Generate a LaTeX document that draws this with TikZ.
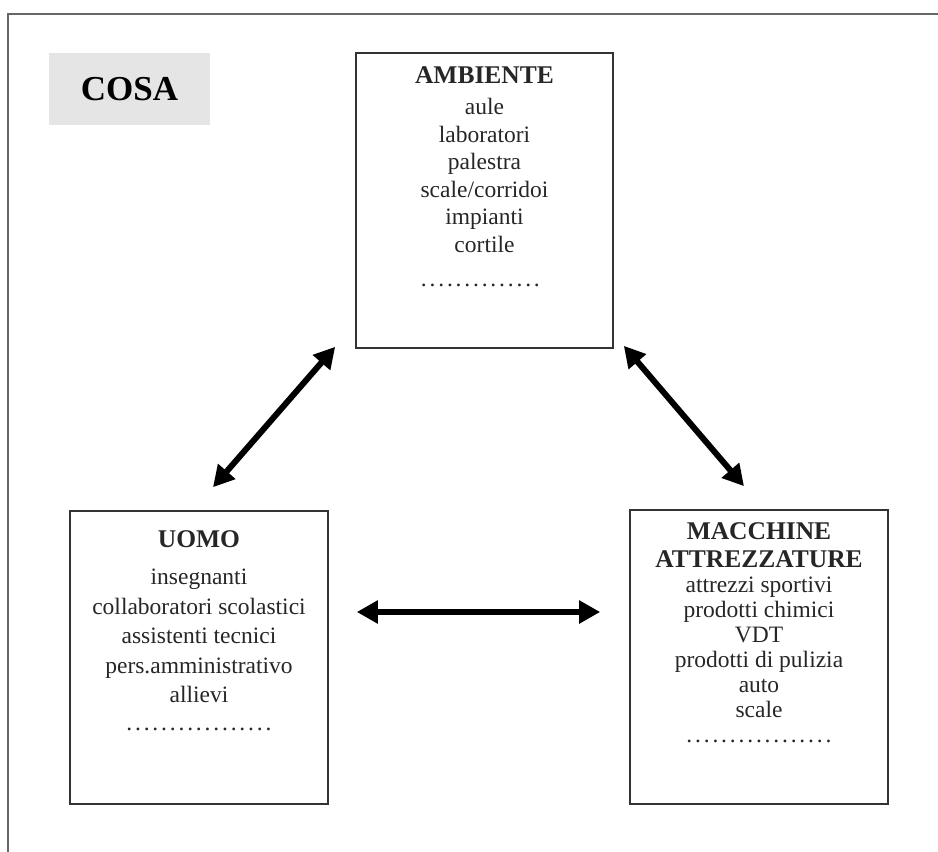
\documentclass[tikz,border=0pt]{standalone}
\usepackage{fontspec}
\setmainfont{Liberation Serif}
\usetikzlibrary{arrows.meta,positioning}
\newcommand{\dotrow}[1]{\makebox[#1]{\leaders\hbox to 8.7pt{\hss.\hss}\hfill}}
\newcommand{\boxtitle}[1]{{\bfseries\fontsize{25.5}{27}\selectfont #1}}

\begin{document}
\begin{tikzpicture}[x=1pt,y=-1pt,
   box/.style={draw=black!80,line width=1.6pt,inner sep=0pt},
   txt/.style={align=center,inner sep=0pt,text=black!85},
   twoway/.style={{Triangle[length=21pt,width=22pt]}-{Triangle[length=21pt,width=22pt]},line width=6pt}]
   \useasboundingbox (0,0) rectangle (938,852);
   \draw[black!60,line width=1.5pt] (8,852) -- (8,14) -- (938,14);

   \node[fill=black!10,minimum width=161pt,minimum height=72pt,
         font=\bfseries\fontsize{35}{40}\selectfont] (cosa) at (129.5,89) {COSA};

   \node[box,minimum width=257pt,minimum height=295pt] (amb) at (484.5,200.5) {};
   \node[box,minimum width=258pt,minimum height=293pt] (uomo) at (199,657.5) {};
   \node[box,minimum width=258pt,minimum height=294pt] (mac) at (759,657) {};

   \node[txt,below=14.3pt of amb.north,font=\fontsize{23.5}{27.6}\selectfont] (amb text)
      {\boxtitle{AMBIENTE}\\[3.4pt] aule\\ laboratori\\ palestra\\ scale/corridoi\\ impianti\\ cortile\\[6.5pt] \dotrow{130pt}};
   \node[txt,below=20.3pt of uomo.north,font=\fontsize{23.5}{29.5}\selectfont] (uomo text)
      {\boxtitle{UOMO}\\[7.5pt] insegnanti\\ collaboratori scolastici\\ assistenti tecnici\\ pers.amministrativo\\ allievi\\[-2pt] \dotrow{148pt}};
   \node[txt,below=13.3pt of mac.north,font=\fontsize{23.5}{25}\selectfont] (mac text)
      {\boxtitle{MACCHINE}\\[3pt] \boxtitle{ATTREZZATURE}\\ attrezzi sportivi\\ prodotti chimici\\ VDT\\ prodotti di pulizia\\ auto\\ scale\\ \dotrow{148pt}};

   \draw[twoway] ([shift={(14,-23)}]uomo.north) -- ([shift={(-20,-2)}]amb.south west);
   \draw[twoway] ([shift={(10,-3)}]amb.south east) -- ([shift={(-15,-23)}]mac.north);
   \draw[twoway] ([shift={(28,-45.5)}]uomo.east) -- ([shift={(-29,-45)}]mac.west);
\end{tikzpicture}
\end{document}
